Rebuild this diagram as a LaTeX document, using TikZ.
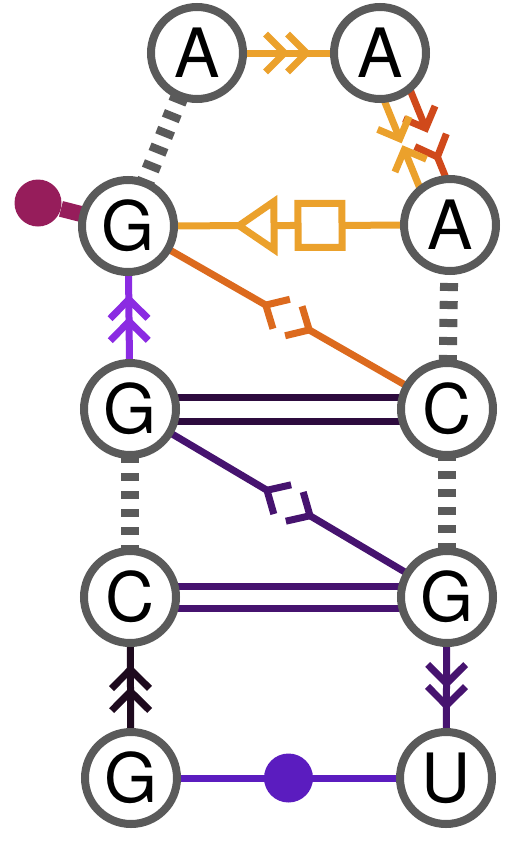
\documentclass[tikz,border=0pt]{standalone}
\usepackage{fontspec}
\setmainfont{TeX Gyre Heros}
\usepackage{xcolor}
\definecolor{NucGray}{HTML}{5A5A5A}
\definecolor{PairAmber}{HTML}{EBA12C}
\definecolor{StackRed}{HTML}{D0491B}
\definecolor{DiagOrange}{HTML}{DC6A1E}
\definecolor{BackViolet}{HTML}{8B2BE2}
\definecolor{DeepPlum}{HTML}{2D0B3E}
\definecolor{Indigo}{HTML}{46136F}
\definecolor{NightPlum}{HTML}{1E0A1E}
\definecolor{WobbleViolet}{HTML}{5B1CBF}
\definecolor{CapMagenta}{HTML}{961D5B}
\usepackage{tikz}
\usetikzlibrary{calc,decorations.markings}
\pgfdeclarelayer{edges}
\pgfsetlayers{edges,main}
\tikzset{
  nuc/.style={circle,draw=NucGray,fill=white,line width=8pt,minimum size=92pt,inner sep=0pt,outer sep=0pt,font=\fontsize{68}{68}\selectfont},
  bond/.style={line width=7pt},
  pairline/.style={line width=7pt},
  stackdash/.style={draw=NucGray,line width=18pt,dash pattern=on 8pt off 10pt},
  backbone/.style={bond,postaction={decorate},decoration={markings,mark=at position 0.5 with {
      \draw[line width=7pt] (-1pt,19pt) -- (18pt,0pt) -- (-1pt,-19pt) (-23pt,19pt) -- (-4pt,0pt) -- (-23pt,-19pt);}}},
  barbgap/.style={bond,postaction={decorate},decoration={markings,mark=at position 0 with {
      \draw[line width=7pt] (17pt,17pt) -- (0pt,0pt) -- (17pt,-17pt);}}},
  forkgap/.style={bond,postaction={decorate},decoration={markings,mark=at position 0 with {
      \draw[line width=7pt] (-18pt,17pt) -- (0pt,0pt) -- (-18pt,-17pt);}}},
  transSH/.style={bond,postaction={decorate},decoration={markings,
      mark=at position 84pt with {\draw[line width=7pt,fill=white] (-22pt,-22pt) rectangle (22pt,22pt);},
      mark=at position 130pt with {\draw[line width=7pt,fill=white] (0pt,-24pt) -- (35pt,0pt) -- (0pt,24pt) -- cycle;}}},
  cisWW/.style={bond,postaction={decorate},decoration={markings,mark=at position 0.5 with {\fill (0,0) circle (24.5pt);}}},
  capdot/.style={circle,fill=CapMagenta,minimum size=47pt,inner sep=0pt}
}

\begin{document}
\begin{tikzpicture}[x=1pt,y=-1pt]
  \useasboundingbox (0,0) rectangle (524,846);
  % nucleotides
  \node[nuc] (a1) at (197,53) {A};
  \node[nuc] (a2) at (380,53) {A};
  \node[nuc] (g1) at (128,226) {G};
  \node[nuc] (a3) at (450,225) {A};
  \node[nuc] (g2) at (130,409) {G};
  \node[nuc] (c1) at (447,409) {C};
  \node[nuc] (c2) at (130,597) {C};
  \node[nuc] (g3) at (447,597) {G};
  \node[nuc] (g4) at (131,778) {G};
  \node[nuc] (u) at (446,778) {U};
  \node[capdot] (cap) at (38,203) {};
  \coordinate (mAA) at ($(a2)!0.5!(a3)$);
  \coordinate (mGC) at ($(g1)!0.5!(c1)$);
  \coordinate (mGG) at ($(g2)!0.5!(g3)$);
  \begin{pgfonlayer}{edges}
    % stacking
    \draw[stackdash] (a1) -- (g1);
    \draw[stackdash] (c1) -- (a3);
    \draw[stackdash] (g2) -- (c2);
    \draw[stackdash] (g3) -- (c1);
    % backbone
    \draw[backbone,PairAmber] (a1) -- (a2);
    \draw[backbone,BackViolet] (g2) -- (g1);
    \draw[backbone,NightPlum] (g4) -- (c2);
    \draw[backbone,Indigo] (g3) -- (u);
    % pairs
    \draw[transSH,PairAmber] (a3) -- (g1);
    \draw[pairline,DeepPlum] ($(g2)!12pt!90:(c1)$) -- ($(c1)!12pt!-90:(g2)$);
    \draw[pairline,DeepPlum] ($(g2)!12pt!-90:(c1)$) -- ($(c1)!12pt!90:(g2)$);
    \draw[pairline,Indigo] ($(c2)!11pt!90:(g3)$) -- ($(g3)!11pt!-90:(c2)$);
    \draw[pairline,Indigo] ($(c2)!11pt!-90:(g3)$) -- ($(g3)!11pt!90:(c2)$);
    \draw[cisWW,WobbleViolet] (g4) -- (u);
    \draw[CapMagenta,line width=16pt] (cap) -- (g1);
    % broken links
    \draw[barbgap,StackRed] ($(mAA)!6pt!(a2)!14pt!90:(a3)$) -- ($(a2)!14pt!90:(a3)$);
    \draw[forkgap,StackRed] ($(mAA)!25pt!(a3)!14pt!90:(a3)$) -- ($(a3)!14pt!-90:(a2)$);
    \draw[barbgap,PairAmber] ($(mAA)!6pt!(a2)!14pt!-90:(a3)$) -- ($(a2)!14pt!-90:(a3)$);
    \draw[barbgap,PairAmber] ($(mAA)!6pt!(a3)!14pt!-90:(a3)$) -- ($(a3)!14pt!90:(a2)$);
    \draw[forkgap,DiagOrange] ($(mGC)!25pt!(g1)$) -- (g1);
    \draw[forkgap,DiagOrange] ($(mGC)!25pt!(c1)$) -- (c1);
    \draw[forkgap,Indigo] ($(mGG)!25pt!(g2)$) -- (g2);
    \draw[forkgap,Indigo] ($(mGG)!25pt!(g3)$) -- (g3);
  \end{pgfonlayer}
\end{tikzpicture}
\end{document}
